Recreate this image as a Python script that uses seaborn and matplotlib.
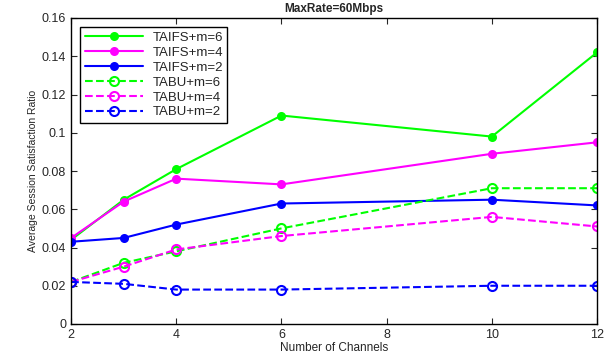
import matplotlib
matplotlib.use("Agg")
import matplotlib.pyplot as plt
import seaborn as sns
import pandas as pd

channels = [2, 3, 4, 6, 10, 12]
taifs_m6 = [0.044, 0.065, 0.081, 0.109, 0.098, 0.142]
taifs_m4 = [0.045, 0.064, 0.076, 0.073, 0.089, 0.095]
taifs_m2 = [0.043, 0.045, 0.052, 0.063, 0.065, 0.062]
tabu_m6 = [0.022, 0.032, 0.038, 0.050, 0.071, 0.071]
tabu_m4 = [0.022, 0.030, 0.039, 0.046, 0.056, 0.051]
tabu_m2 = [0.022, 0.021, 0.018, 0.018, 0.020, 0.020]
names = ["TAIFS+m=6", "TAIFS+m=4", "TAIFS+m=2", "TABU+m=6", "TABU+m=4", "TABU+m=2"]
series = [taifs_m6, taifs_m4, taifs_m2, tabu_m6, tabu_m4, tabu_m2]
x_ticks = [2, 4, 6, 8, 10, 12]
y_ticks = [0, 0.02, 0.04, 0.06, 0.08, 0.1, 0.12, 0.14, 0.16]
y_ticklabels = ["0", "0.02", "0.04", "0.06", "0.08", "0.1", "0.12", "0.14", "0.16"]

sns.set_style("ticks")
plt.rcParams['font.family'] = ['Liberation Sans', 'DejaVu Sans']

fig = plt.figure(figsize=(6.13, 3.6), dpi=100)
ax = fig.add_axes([0.116, 0.1, 0.858, 0.85])

colors = ["#00ff00", "#ff00ff", "#0000ff", "#00ff00", "#ff00ff", "#0000ff"]
for i, (name, vals) in enumerate(zip(names, series)):
    df = pd.DataFrame({"x": channels, "y": vals})
    dashed = i >= 3
    sns.lineplot(data=df, x="x", y="y", ax=ax, color=colors[i], label=name,
                 linestyle="--" if dashed else "-", linewidth=1.5,
                 marker="o", markersize=5 if not dashed else 6.5,
                 markerfacecolor="none" if dashed else colors[i],
                 markeredgecolor=colors[i], markeredgewidth=1.5,
                 dashes=(4, 3) if dashed else None)

ax.set_xlim(2, 12)
ax.set_ylim(0, 0.16)
ax.set_xticks(x_ticks)
ax.set_xticklabels([str(t) for t in x_ticks])
ax.set_yticks(y_ticks)
ax.set_yticklabels(y_ticklabels)
ax.tick_params(direction="in", top=True, right=True, labelsize=9, length=4, width=0.8)
for s in ax.spines.values():
    s.set_linewidth(1.0)
    s.set_color("black")
ax.set_xlabel("Number of Channels", fontsize=8.5, labelpad=1)
ax.set_ylabel("Average Session Satisfaction Ratio", fontsize=7.5, labelpad=3)
ax.set_title("MaxRate=60Mbps", fontsize=8.5, fontweight="bold", pad=4)

leg = ax.legend(loc="upper left", fontsize=9.5, frameon=True, fancybox=False,
                edgecolor="black", framealpha=1, handlelength=4.4,
                borderaxespad=0.7, labelspacing=0.2, borderpad=0.35, handletextpad=0.7)
leg.get_frame().set_linewidth(1.0)

fig.savefig("out.png", dpi=100)
